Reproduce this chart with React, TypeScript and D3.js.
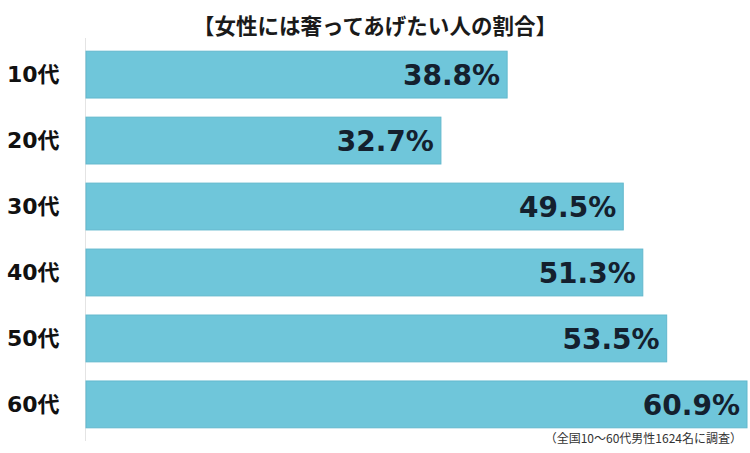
import React from "react";
import * as d3 from "d3";

const categories = ["10代", "20代", "30代", "40代", "50代", "60代"];
const values = [38.8, 32.7, 49.5, 51.3, 53.5, 60.9];
const title = "【女性には奢ってあげたい人の割合】";
const footnote = "（全国10～60代男性1624名に調査）";

const W = 750;
const H = 453;

export default function App() {
  const x = d3.scaleLinear().domain([0, 60.9]).range([86, 747]);
  const y = d3
    .scaleBand<string>()
    .domain(categories)
    .range([38, 441])
    .paddingInner(0.29)
    .paddingOuter(0.2);
  const jp = "'Noto Sans CJK JP', 'Noto Sans', sans-serif";
  const num = "'DejaVu Sans', 'Noto Sans CJK JP', sans-serif";
  return (
    <svg
      width={W}
      height={H}
      style={{ position: "absolute", left: 0, top: 0, background: "#fff" }}
    >
      <text
        x={375}
        y={24}
        textAnchor="middle"
        dominantBaseline="central"
        fontFamily={jp}
        fontWeight={700}
        fontSize={21.5}
        fill="#1a1a1a"
      >
        {title}
      </text>
      <line x1={85.5} x2={85.5} y1={38} y2={441} stroke="#e4e4e4" strokeWidth={1} />
      {categories.map((c, i) => {
        const by = y(c)!;
        const bh = y.bandwidth();
        return (
          <g key={c}>
            <rect
              x={x(0)}
              y={by}
              width={x(values[i]) - x(0)}
              height={bh}
              fill="#6fc6da"
              stroke="#62b8cd"
              strokeWidth={1}
            />
            <text
              x={x(values[i]) - 7}
              y={by + bh / 2 + 1}
              textAnchor="end"
              dominantBaseline="central"
              fontFamily={num}
              fontWeight={700}
              fontSize={28}
              fill="#14202e"
            >
              {values[i].toFixed(1)}%
            </text>
            <text
              x={7}
              y={by + bh / 2}
              dominantBaseline="central"
              fontFamily={num}
              fontWeight={700}
              fontSize={22}
              fill="#111"
            >
              {c}
            </text>
          </g>
        );
      })}
      <text
        x={742}
        y={437}
        textAnchor="end"
        dominantBaseline="central"
        fontFamily={jp}
        fontSize={12}
        fill="#333"
      >
        {footnote}
      </text>
    </svg>
  );
}
